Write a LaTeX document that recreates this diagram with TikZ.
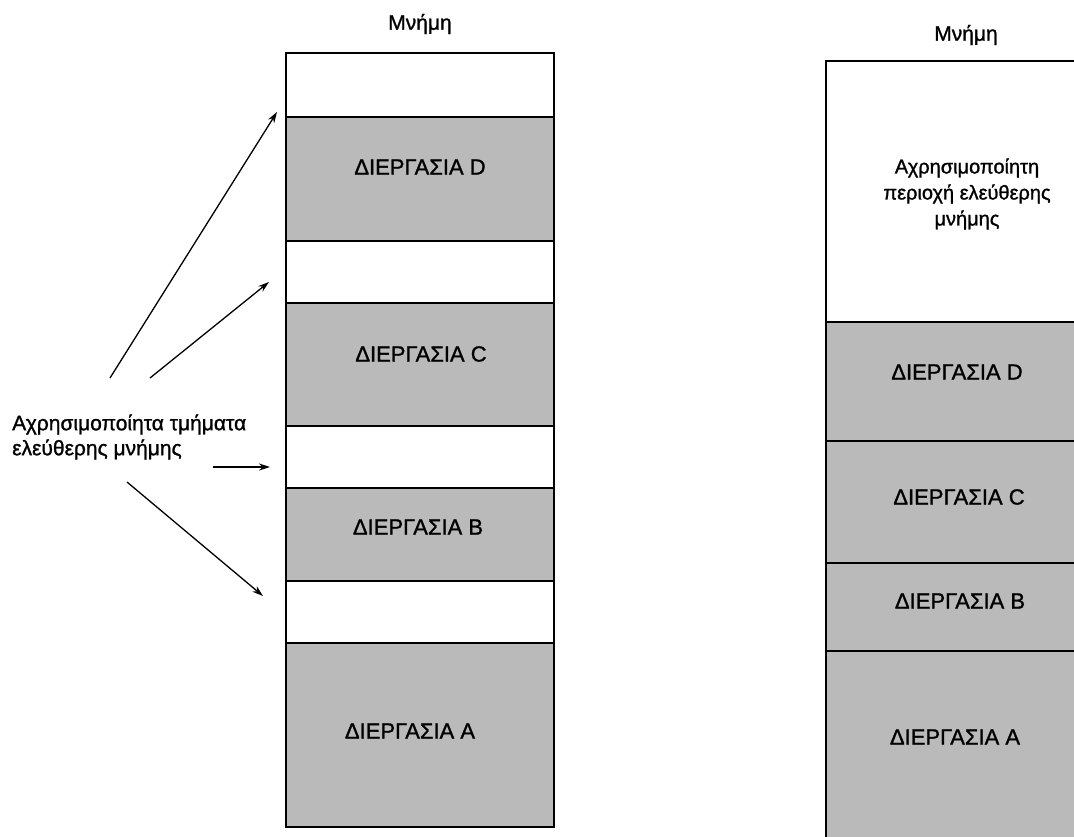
\documentclass[tikz,border=0pt]{standalone}
\usepackage{fontspec}
\setmainfont[FakeBold=1.2]{Liberation Sans}
\usetikzlibrary{arrows.meta}
\begin{document}
\begin{tikzpicture}[x=1pt,y=-1pt,
  blk/.style={draw=black, line width=1.8pt, anchor=north west, inner sep=0pt},
  freeblk/.style={blk, fill=white},
  procblk/.style={blk, fill=black!27},
  proclbl/.style={font=\fontsize{22}{26}\selectfont, inner sep=0pt},
  lbl/.style={font=\fontsize{21}{25}\selectfont, align=center, inner sep=0pt},
  ptr/.style={line width=1.3pt, -{Stealth[length=11pt,width=7pt]}}]
\useasboundingbox (0,0) rectangle (1074,836);
\clip (0,0) rectangle (1074,836);

% memory with scattered holes
\node[lbl] (lmem) at (420,24) {Μνήμη};
\node[freeblk, minimum width=268, minimum height=64]  (lf1) at (285,52)  {};
\node[procblk, minimum width=268, minimum height=124] (lD)  at (285,116) {};
\node[freeblk, minimum width=268, minimum height=62]  (lf2) at (285,240) {};
\node[procblk, minimum width=268, minimum height=123] (lC)  at (285,302) {};
\node[freeblk, minimum width=268, minimum height=62]  (lf3) at (285,425) {};
\node[procblk, minimum width=268, minimum height=93]  (lB)  at (285,487) {};
\node[freeblk, minimum width=268, minimum height=62]  (lf4) at (285,580) {};
\node[procblk, minimum width=268, minimum height=184] (lA)  at (285,642) {};
\node[proclbl] (lDt) at (420,167) {ΔΙΕΡΓΑΣΙΑ D};
\node[proclbl] (lCt) at (421,354) {ΔΙΕΡΓΑΣΙΑ C};
\node[proclbl] (lBt) at (418,527) {ΔΙΕΡΓΑΣΙΑ B};
\node[proclbl] (lAt) at (410,731) {ΔΙΕΡΓΑΣΙΑ A};

% memory after compaction
\node[lbl] (rmem) at (966,35) {Μνήμη};
\node[freeblk, minimum width=275, minimum height=261] (rf) at (825,60) {};
\node[procblk, minimum width=275, minimum height=119] (rD) at (825,321) {};
\node[procblk, minimum width=275, minimum height=122] (rC) at (825,440) {};
\node[procblk, minimum width=275, minimum height=88]  (rB) at (825,562) {};
\node[procblk, minimum width=275, minimum height=260] (rA) at (825,650) {};
\node[lbl, font=\fontsize{20}{26}\selectfont] (rft) at (967,194)
  {Αχρησιμοποίητη\\περιοχή ελεύθερης\\μνήμης};
\node[proclbl] (rDt) at (957,372) {ΔΙΕΡΓΑΣΙΑ D};
\node[proclbl] (rCt) at (959,497) {ΔΙΕΡΓΑΣΙΑ C};
\node[proclbl] (rBt) at (960,601) {ΔΙΕΡΓΑΣΙΑ B};
\node[proclbl] (rAt) at (955,737) {ΔΙΕΡΓΑΣΙΑ A};

% label for the free holes and its pointers
\node[lbl, align=left, anchor=west] (holes) at (12,437)
  {Αχρησιμοποίητα τμήματα\\ελεύθερης μνήμης};
\coordinate (s1) at (110,378);
\coordinate (e1) at (277,112);
\coordinate (s2) at (150,378);
\coordinate (e2) at (269,282);
\coordinate (s3) at (213,467);
\coordinate (e3) at (270,467);
\coordinate (s4) at (127,482);
\coordinate (e4) at (263,596);
\draw[ptr] (s1) -- (e1);
\draw[ptr] (s2) -- (e2);
\draw[ptr] (s3) -- (e3);
\draw[ptr] (s4) -- (e4);
\end{tikzpicture}
\end{document}
